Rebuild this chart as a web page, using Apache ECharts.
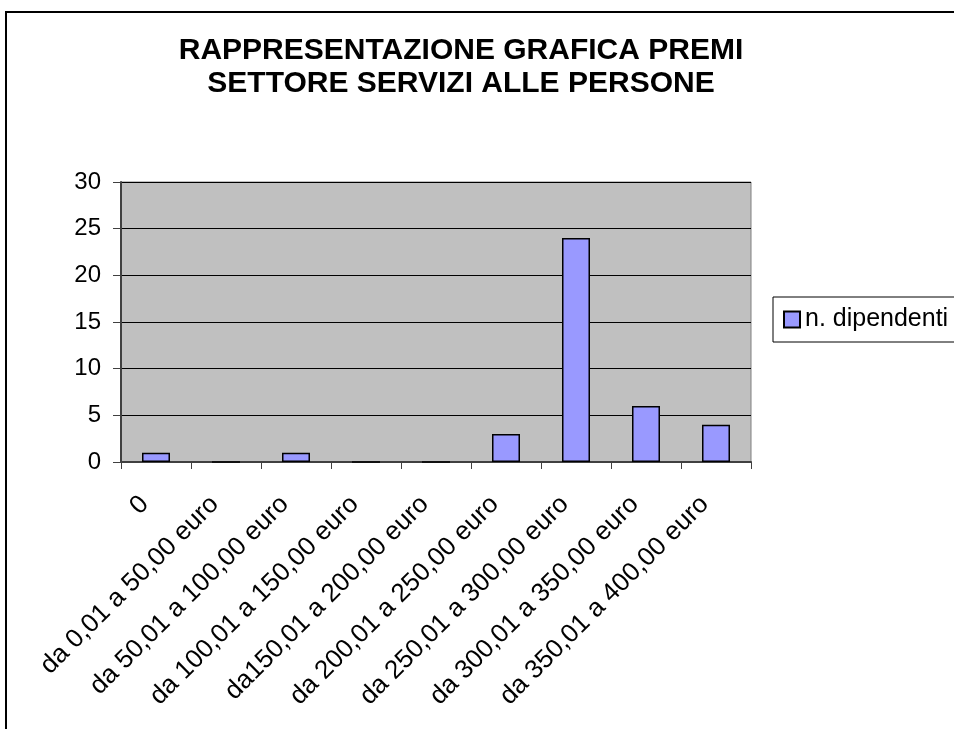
<!DOCTYPE html>
<html>
<head>
<meta charset="utf-8">
<script src="https://cdn.jsdelivr.net/npm/echarts@6/dist/echarts.min.js"></script>
<style>
  html, body { margin: 0; padding: 0; background: #fff; }
  #chart { width: 954px; height: 729px; }
</style>
</head>
<body>
<div id="chart"></div>
<script>
  const categories = [
    '0',
    'da 0,01 a 50,00 euro',
    'da 50,01 a 100,00 euro',
    'da 100,01 a 150,00 euro',
    'da150,01 a 200,00 euro',
    'da 200,01 a 250,00 euro',
    'da 250,01 a 300,00 euro',
    'da 300,01 a 350,00 euro',
    'da 350,01 a 400,00 euro'
  ]
  const dipendenti = [1, 0, 1, 0, 0, 3, 24, 6, 4]
  const seriesName = 'n. dipendenti'
  const chartTitle = 'RAPPRESENTAZIONE GRAFICA PREMI\nSETTORE SERVIZI ALLE PERSONE'

  const font = 'Liberation Sans, Arial, sans-serif'
  const chart = echarts.init(document.getElementById('chart'))

  const option = {
    animation: false,
    backgroundColor: '#fff',
    graphic: [
      {
        type: 'rect',
        shape: { x: 6, y: 12, width: 1000, height: 800 },
        style: { fill: 'none', stroke: '#000', lineWidth: 2 },
        silent: true
      },
      {
        // chart title, two centred lines
        type: 'text',
        x: 461,
        y: 34,
        style: {
          text: chartTitle,
          align: 'center',
          verticalAlign: 'top',
          fontFamily: font,
          fontWeight: 'bold',
          fontSize: 30,
          lineHeight: 33,
          fill: '#000'
        },
        silent: true
      }
    ],
    legend: {
      data: [seriesName],
      left: 773,
      top: 297,
      orient: 'vertical',
      padding: [10, 10, 10, 10],
      itemWidth: 16,
      itemHeight: 16,
      borderColor: '#000',
      borderWidth: 1,
      icon: 'rect',
      textStyle: { fontFamily: font, fontSize: 25, color: '#000' }
    },
    grid: {
      left: 121,
      right: 203,
      top: 182,
      bottom: 267,
      show: true,
      backgroundColor: '#C0C0C0',
      borderColor: '#808080',
      borderWidth: 1
    },
    xAxis: {
      type: 'category',
      data: categories,
      axisLine: { lineStyle: { color: '#404040', width: 2 } },
      axisTick: { show: true, length: 7, lineStyle: { color: '#404040' } },
      axisLabel: {
        interval: 0,
        rotate: 45,
        margin: 27,
        padding: [0, 16, 0, 0],
        fontFamily: font,
        fontSize: 26,
        color: '#000'
      },
      splitLine: { show: false }
    },
    yAxis: {
      type: 'value',
      min: 0,
      max: 30,
      interval: 5,
      axisLine: { show: true, lineStyle: { color: '#404040', width: 2 } },
      axisTick: { show: true, length: 8, lineStyle: { color: '#404040' } },
      axisLabel: {
        margin: 20,
        fontFamily: font,
        fontSize: 24,
        color: '#000'
      },
      splitLine: { lineStyle: { color: '#000', width: 1 } }
    },
    series: [
      {
        name: seriesName,
        type: 'bar',
        data: dipendenti,
        barCategoryGap: '60%',
        itemStyle: {
          color: '#9999FF',
          borderColor: '#000',
          borderWidth: 1.5
        }
      }
    ]
  }

  chart.setOption(option)
</script>
</body>
</html>
